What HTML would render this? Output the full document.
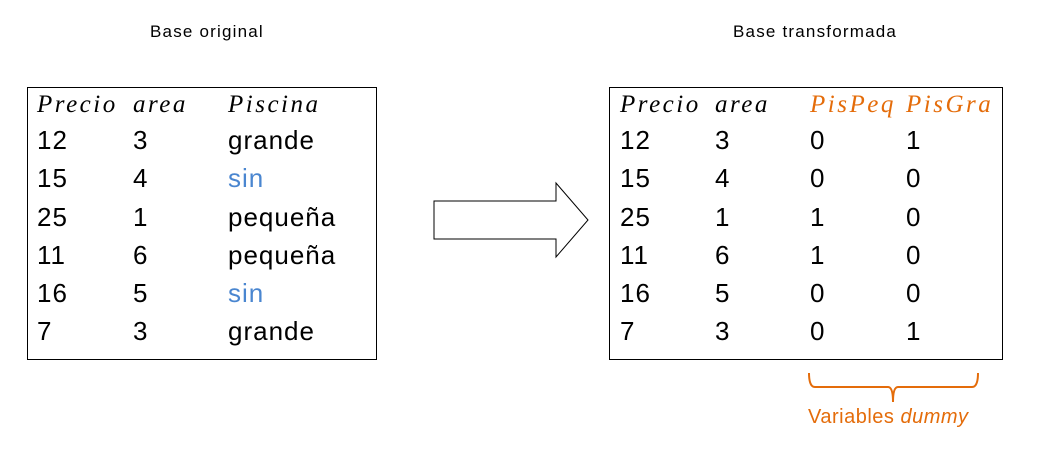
<!DOCTYPE html>
<html><head><style>
body{margin:0;width:1052px;height:460px;background:#fff;position:relative;font-family:"Liberation Sans",sans-serif;overflow:hidden}
.t{position:absolute;font-size:17px;letter-spacing:1.2px;color:#000}
.box{position:absolute;border:1.3px solid #000;box-sizing:border-box}
.c{position:absolute;font-size:26px;letter-spacing:1px;line-height:38.3px;color:#000;white-space:nowrap;top:121px}
.h{font-family:"Liberation Serif",serif;font-style:italic;font-size:25px;letter-spacing:2.5px;top:86px}
.o{color:#E46C0A}.b{color:#4A86D0}
</style></head><body>
<div class="t" style="left:150px;top:22px">Base original</div>
<div class="t" style="left:733px;top:22px">Base transformada</div>
<div class="box" style="left:27px;top:87px;width:350px;height:273px"></div>
<div class="box" style="left:609px;top:87px;width:394px;height:273px"></div>

<div class="c h" style="left:37px">Precio</div>
<div class="c h" style="left:133px">area</div>
<div class="c h" style="left:228px">Piscina</div>
<div class="c" style="left:37px">12<br>15<br>25<br>11<br>16<br>7</div>
<div class="c" style="left:133px">3<br>4<br>1<br>6<br>5<br>3</div>
<div class="c" style="left:228px">grande<br><span class="b">sin</span><br>pequeña<br>pequeña<br><span class="b">sin</span><br>grande</div>

<div class="c h" style="left:620px">Precio</div>
<div class="c h" style="left:715px">area</div>
<div class="c h o" style="left:810px">PisPeq</div>
<div class="c h o" style="left:906px">PisGra</div>
<div class="c" style="left:620px">12<br>15<br>25<br>11<br>16<br>7</div>
<div class="c" style="left:715px">3<br>4<br>1<br>6<br>5<br>3</div>
<div class="c" style="left:810px">0<br>0<br>1<br>1<br>0<br>0</div>
<div class="c" style="left:906px">1<br>0<br>0<br>0<br>0<br>1</div>

<svg style="position:absolute;left:0;top:0" width="1052" height="460">
<polygon points="434,201 556,201 556,183 588,220 556,257 556,239 434,239" fill="#fff" stroke="#000" stroke-width="1"/>
<path d="M809,373 Q809,387 815,387 L888,387 Q893,387 893,402 Q893,387 898,387 L972,387 Q978,387 978,373" fill="none" stroke="#E46C0A" stroke-width="2"/>
</svg>
<div class="t o" style="left:808px;top:406px;font-size:20px;letter-spacing:0.5px">Variables <i>dummy</i></div>
</body></html>
